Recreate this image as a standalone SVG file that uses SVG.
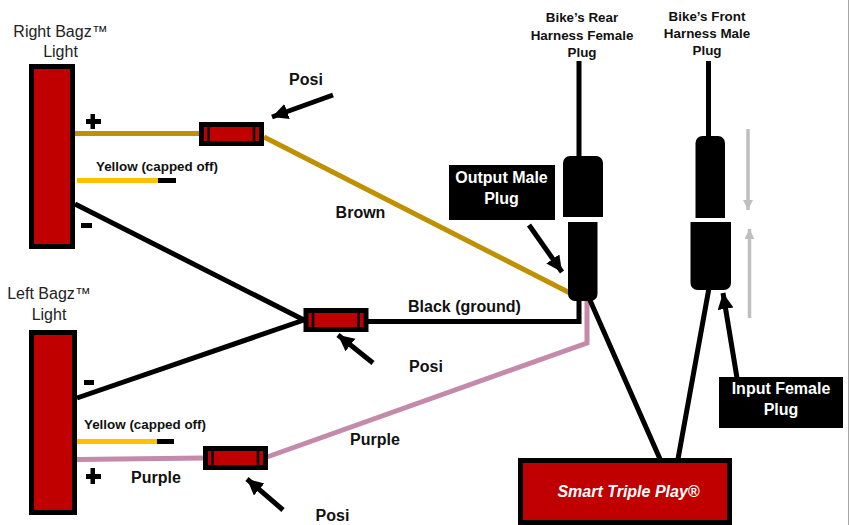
<svg xmlns="http://www.w3.org/2000/svg" width="849" height="525" viewBox="0 0 849 525">
<style>
.b{font-family:"Liberation Sans",Arial,sans-serif;font-weight:700;font-size:16px;fill:#111;text-anchor:middle}
.s{font-size:13.400px}
.h{font-family:"Liberation Sans",Arial,sans-serif;font-size:16px;fill:#222;text-anchor:middle}
.w{fill:#fff;font-size:16px}
.red{fill:#c00000;stroke:#000;stroke-width:5}
.wire{fill:none;stroke-width:5}
.k{stroke:#000}.br{stroke:#bf9000}.pu{stroke:#c48aaa}.ye{stroke:#ffc000}
.ar{stroke:#000;stroke-width:5;fill:none;marker-end:url(#ah)}
.gr{stroke:#bfbfbf;stroke-width:3.500;fill:none;marker-end:url(#gh)}
.bk{fill:#000}
</style>
<defs>
<marker id="ah" markerUnits="userSpaceOnUse" markerWidth="20" markerHeight="20" refX="16" refY="8" orient="auto"><path d="M0 0L16 8L0 16z" fill="#000"/></marker>
<marker id="gh" markerUnits="userSpaceOnUse" markerWidth="12" markerHeight="12" refX="10" refY="5" orient="auto"><path d="M0 0L10 5L0 10z" fill="#bfbfbf"/></marker>
<g id="posi"><rect class="red" x="2.500" y="2.500" width="60" height="19"/><path d="M9.500 3V21M55 3V21" stroke="#000" stroke-width="2.500"/></g>
</defs>
<rect x="848" y="0" width="1" height="525" fill="#a6a6a6"/>
<g id="connectors">
<path class="wire br" d="M75 133.500H200M264 137L570 293"/>
<path class="wire ye" d="M77 180.500H159M76 441.500H158"/>
<path class="wire k" d="M158 180.500H176M157 441.500H174"/>
<path class="wire k" d="M75 204L304 320M77 398L304 320M367 321.500H579V298"/>
<path class="wire pu" d="M77 459.500L204 458M267 457L587 343V300"/>
<path class="wire k" d="M579 61V160M708.500 61V140"/>
<path class="wire k" d="M589 298L660 459M709 288L678 459"/>
<path class="ar" d="M333 95L272 117"/>
<path class="ar" d="M529 225L562 272"/>
<path class="ar" d="M373 363L338 335"/>
<path class="ar" d="M283 510L247 479"/>
<path class="ar" d="M737 378L723 293"/>
<path class="gr" d="M748 129V210"/>
<path class="gr" d="M749.500 318V229"/>
</g>
<g id="right-light"><rect class="red" x="31.500" y="66.500" width="41" height="180"/>
<text class="h"><tspan x="60.500" y="37">Right Bagz™</tspan><tspan x="60.500" y="57">Light</tspan></text></g>
<g id="left-light"><rect class="red" x="31.500" y="332.500" width="43" height="180"/>
<text class="h"><tspan x="49" y="299">Left Bagz™</tspan><tspan x="49" y="320">Light</tspan></text></g>
<g id="posi-1"><use href="#posi" x="199" y="122"/></g>
<g id="posi-2"><use href="#posi" x="303.500" y="308"/></g>
<g id="posi-3"><use href="#posi" x="203" y="446"/></g>
<g id="rear-plug"><path class="bk" d="M563 217V163a7 7 0 0 1 7-7h26a7 7 0 0 1 7 7V217z"/><path class="bk" d="M568 222H597.500V294a7 7 0 0 1-7 7H575a7 7 0 0 1-7-7z"/>
<text class="b s"><tspan x="582" y="22">Bike’s Rear</tspan><tspan x="582" y="40">Harness Female</tspan><tspan x="582" y="57">Plug</tspan></text></g>
<g id="front-plug"><path class="bk" d="M695.500 218V143a7 7 0 0 1 7-7h15.500a7 7 0 0 1 7 7V218z"/><path class="bk" d="M690.500 222H731V283a7 7 0 0 1-7 7H697.500a7 7 0 0 1-7-7z"/>
<text class="b s"><tspan x="707" y="21">Bike’s Front</tspan><tspan x="707" y="38">Harness Male</tspan><tspan x="707" y="55">Plug</tspan></text></g>
<g id="output-label"><rect class="bk" x="449" y="165" width="106" height="55"/><text class="b w"><tspan x="501.500" y="183">Output Male</tspan><tspan x="501.500" y="204">Plug</tspan></text></g>
<g id="input-label"><rect class="bk" x="719" y="377" width="124" height="51"/><text class="b w"><tspan x="781" y="394">Input Female</tspan><tspan x="781" y="415">Plug</tspan></text></g>
<g id="smart-triple-play"><rect class="red" x="520.500" y="460.500" width="209" height="62"/><text x="628.500" y="497" style="font-family:'Liberation Sans',Arial,sans-serif;font-weight:700;font-style:italic;font-size:16px;fill:#fff;text-anchor:middle">Smart Triple Play®</text></g>
<g id="labels">
<text class="b" x="306" y="85">Posi</text>
<text class="b" x="360.500" y="218">Brown</text>
<text class="b" x="464.500" y="312">Black (ground)</text>
<text class="b" x="426" y="372">Posi</text>
<text class="b" x="375" y="445">Purple</text>
<text class="b" x="156" y="483">Purple</text>
<text class="b" x="332.500" y="521">Posi</text>
<text class="b s" x="157" y="171">Yellow (capped off)</text>
<text class="b s" x="145" y="429">Yellow (capped off)</text>
<path class="bk" d="M90.500 114H95V119H101V124H95V129H90.500V124H86V119H90.500z"/>
<rect class="bk" x="81" y="223" width="11" height="5"/>
<rect class="bk" x="84" y="380" width="10" height="5"/>
<path class="bk" d="M90.500 468H95V474H101V479H95V484H90.500V479H86V474H90.500z"/>
</g>
</svg>
